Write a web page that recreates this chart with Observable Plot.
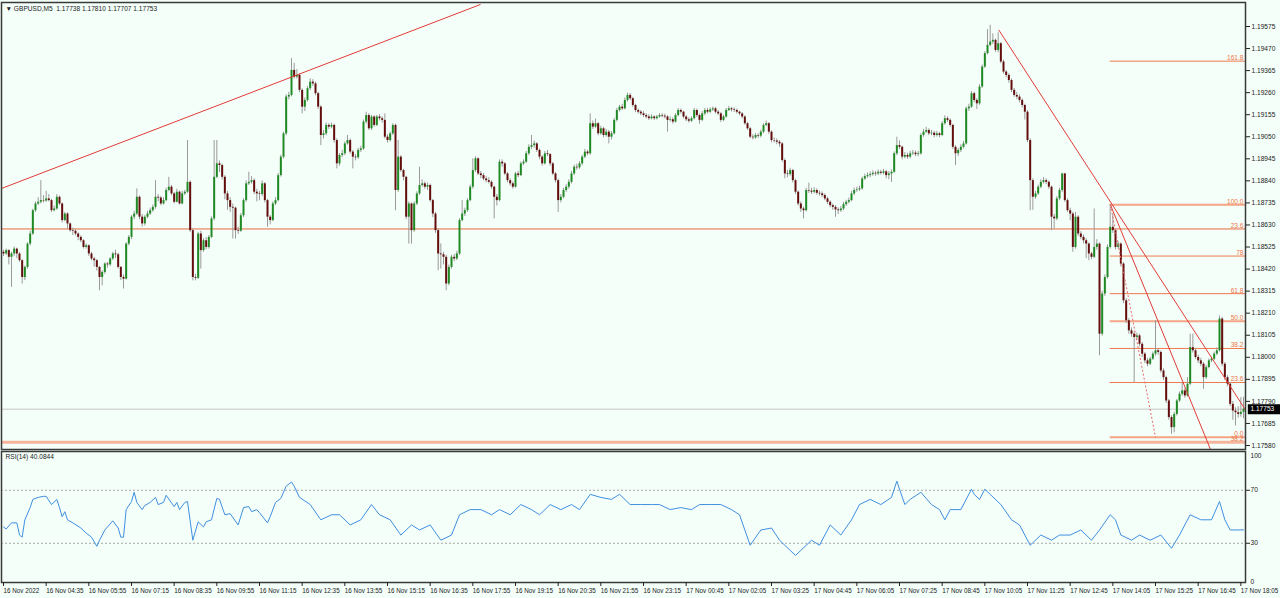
<!DOCTYPE html>
<html><head><meta charset="utf-8">
<script src="https://cdn.jsdelivr.net/npm/d3@7"></script>
<script src="https://cdn.jsdelivr.net/npm/@observablehq/plot@0.6"></script>
<style>
body{margin:0;background:#f5fffa;}
#wrap{position:relative;width:1280px;height:598px;background:#f5fffa;overflow:hidden;}
#wrap svg{position:absolute;left:0;}
</style></head><body><div id="wrap"></div>
<script>
// Prices stored in points (0.00001) above 1.17000; opens follow the previous close
const BASE = 1.17;
const firstOpen = 1500;
const closes = [
1492,1508,1476,1492,1515,1492,1460,1380,1428,1539,
1587,1698,1730,1738,1746,1744,1754,1746,1698,1706,
1762,1730,1651,1682,1635,1603,1600,1587,1571,1555,
1523,1531,1492,1468,1460,1428,1380,1404,1444,1440,
1468,1492,1488,1428,1380,1372,1539,1571,1667,1682,
1762,1667,1635,1667,1682,1698,1714,1762,1758,1730,
1746,1794,1810,1778,1738,1786,1730,1778,1786,1833,
1603,1380,1376,1587,1508,1555,1523,1571,1659,1857,
1921,1913,1857,1778,1746,1714,1710,1603,1600,1674,
1746,1826,1833,1841,1786,1778,1775,1826,1746,1667,
1651,1730,1746,1865,1953,2064,2239,2247,2366,2334,
2342,2271,2191,2223,2279,2310,2302,2255,2191,2056,
2064,2104,2096,2104,2032,1921,1961,1969,2016,2032,
1977,1953,1950,1985,1992,2120,2151,2088,2144,2104,
2144,2136,2128,2048,2032,2064,2104,1794,1953,1889,
1857,1667,1730,1603,1730,1778,1818,1826,1810,1818,
1746,1682,1603,1492,1488,1476,1349,1428,1476,1468,
1492,1651,1682,1698,1746,1810,1889,1945,1873,1865,
1849,1841,1833,1810,1762,1746,1929,1921,1873,1841,
1826,1810,1873,1865,1921,1929,1969,2000,2008,2016,
1985,1953,1921,1969,1965,1921,1873,1841,1746,1762,
1794,1810,1833,1873,1905,1902,1921,1953,1977,1969,
2112,2096,2112,2064,2088,2056,2072,2048,2064,2128,
2175,2191,2183,2223,2247,2231,2199,2175,2167,2159,
2151,2144,2136,2144,2136,2144,2151,2148,2144,2128,
2131,2120,2151,2175,2167,2144,2131,2124,2136,2175,
2151,2128,2159,2175,2167,2178,2183,2167,2159,2128,
2144,2175,2183,2178,2175,2167,2159,2144,2112,2088,
2048,2045,2056,2053,2072,2104,2112,2072,2032,2030,
2024,2016,1937,1873,1870,1889,1841,1786,1730,1706,
1698,1794,1791,1786,1794,1781,1778,1770,1754,1738,
1722,1714,1702,1698,1706,1727,1738,1746,1778,1794,
1797,1802,1849,1860,1865,1870,1876,1873,1881,1876,
1883,1865,1873,1881,1969,2008,2000,1953,1961,1953,
1969,1972,1965,1969,2056,2072,2080,2064,2067,2056,
2064,2056,2112,2136,2128,2104,2000,1969,1985,2000,
2016,2183,2191,2255,2223,2207,2287,2382,2446,2485,
2501,2509,2461,2493,2406,2358,2342,2318,2271,2247,
2239,2223,2199,2167,2032,1841,1762,1778,1810,1833,
1841,1833,1810,1667,1659,1754,1794,1873,1746,1698,
1682,1523,1667,1587,1571,1555,1539,1492,1476,1523,
1539,1110,1301,1380,1523,1619,1603,1523,1539,1444,
1269,1174,1126,1110,1094,1102,1062,1015,983,967,
991,1015,1031,1023,935,903,792,713,665,728,
792,824,840,816,872,1046,1031,999,983,967,
903,951,983,991,1015,1031,1182,967,903,872,
776,744,736,728,738,753];
const highs = [
1510,1515,1512,1500,1525,1520,1498,1465,1435,1545,
1600,1705,1740,1760,1841,1770,1790,1775,1752,1720,
1775,1768,1735,1690,1688,1640,1615,1608,1592,1578,
1560,1540,1535,1500,1475,1465,1432,1412,1450,1452,
1475,1500,1510,1495,1432,1392,1545,1580,1675,1695,
1802,1768,1680,1675,1695,1710,1725,1841,1775,1765,
1760,1805,1857,1818,1785,1800,1792,1790,1795,2032,
1840,1610,1395,1595,1600,1565,1570,1580,1668,2032,
2032,1935,1920,1865,1790,1760,1730,1715,1620,1685,
1755,1840,1881,1860,1850,1800,1790,1840,1832,1752,
1675,1740,1760,1875,1962,2072,2250,2262,2422,2400,
2370,2350,2278,2235,2290,2326,2322,2310,2262,2198,
2080,2115,2112,2115,2110,2040,1970,1985,2025,2056,
2040,1985,1965,1995,2005,2130,2167,2160,2152,2150,
2152,2155,2145,2159,2060,2072,2112,2110,2032,1960,
1895,1862,1740,1735,1740,1788,1905,1845,1835,1830,
1825,1752,1690,1610,1540,1500,1485,1440,1485,1490,
1505,1660,1746,1710,1755,1820,1945,1955,1950,1885,
1875,1860,1855,1840,1815,1775,1940,1940,1928,1880,
1850,1835,1880,1885,1930,1940,1980,2012,2056,2030,
2022,1992,1960,1980,1985,1970,1928,1880,1848,1775,
1805,1822,1845,1885,1915,1920,1932,1962,1990,1985,
2159,2125,2135,2118,2100,2095,2085,2080,2075,2138,
2185,2200,2205,2235,2258,2256,2238,2205,2182,2175,
2170,2160,2155,2155,2150,2152,2160,2160,2158,2150,
2145,2140,2160,2185,2182,2172,2150,2140,2145,2185,
2182,2158,2170,2185,2185,2188,2192,2190,2175,2165,
2152,2185,2195,2190,2188,2182,2172,2165,2150,2118,
2095,2060,2065,2065,2082,2112,2125,2118,2078,2045,
2040,2032,2022,1945,1890,1900,1895,1848,1792,1740,
1715,1805,1829,1805,1808,1802,1792,1788,1778,1762,
1745,1730,1722,1712,1718,1738,1748,1758,1790,1805,
1810,1815,1858,1872,1878,1882,1888,1885,1892,1890,
1895,1890,1885,1892,1978,2048,2030,2005,1975,1972,
1980,1985,1982,1980,2065,2085,2095,2088,2080,2075,
2075,2070,2122,2150,2145,2135,2110,2008,1995,2012,
2028,2192,2205,2265,2262,2232,2298,2392,2455,2560,
2581,2540,2515,2545,2500,2415,2365,2350,2325,2280,
2262,2250,2230,2205,2175,2040,1850,1790,1820,1845,
1855,1850,1840,1815,1680,1765,1805,1876,1876,1755,
1710,1690,1690,1675,1598,1582,1565,1545,1500,1706,
1560,1545,1315,1392,1535,1727,1680,1610,1550,1545,
1450,1280,1185,1140,1120,1115,1110,1070,1022,995,
1000,1025,1174,1040,1030,945,910,800,722,738,
800,835,880,850,903,1110,1110,1040,1010,995,
975,962,992,1002,1025,1045,1197,1190,975,912,
880,790,760,765,808,810];
const lows = [
1480,1485,1440,1333,1480,1470,1452,1349,1365,1420,
1530,1580,1690,1722,1730,1735,1738,1740,1690,1692,
1700,1722,1640,1645,1610,1595,1580,1578,1555,1545,
1515,1515,1480,1460,1430,1410,1317,1340,1395,1425,
1432,1460,1470,1420,1365,1325,1368,1530,1560,1655,
1675,1655,1620,1625,1660,1675,1690,1705,1740,1722,
1725,1740,1788,1770,1730,1735,1725,1725,1770,1780,
1595,1364,1364,1370,1420,1500,1512,1515,1565,1650,
1850,1880,1845,1750,1700,1690,1563,1563,1585,1595,
1665,1738,1818,1825,1775,1740,1745,1765,1735,1619,
1630,1645,1722,1740,1858,1945,2055,2225,2240,2325,
2325,2260,2159,2170,2215,2270,2290,2245,2180,2008,
2040,2055,2085,2088,2020,1897,1910,1950,1960,2010,
1968,1897,1935,1942,1975,1985,2110,2080,2080,2095,
2098,2125,2115,2040,2020,2025,2056,1698,1785,1880,
1840,1655,1539,1539,1595,1722,1770,1810,1800,1795,
1738,1665,1590,1412,1420,1440,1317,1340,1420,1455,
1460,1485,1645,1670,1690,1740,1800,1880,1865,1850,
1840,1830,1825,1800,1659,1720,1740,1905,1865,1830,
1815,1800,1805,1855,1860,1912,1922,1960,1990,1995,
1975,1940,1910,1915,1955,1910,1865,1830,1690,1735,
1755,1785,1800,1825,1865,1890,1895,1912,1945,1960,
1962,2085,2090,2055,2058,2045,2048,2016,2035,2058,
2120,2168,2175,2178,2215,2222,2190,2165,2158,2150,
2142,2135,2128,2130,2128,2130,2138,2140,2135,2072,
2120,2110,2115,2145,2158,2135,2122,2115,2118,2130,
2142,2110,2122,2150,2158,2160,2170,2158,2150,2118,
2122,2138,2170,2168,2165,2158,2150,2135,2105,2080,
2040,2035,2038,2042,2045,2065,2098,2062,2022,2020,
2012,2000,1928,1850,1855,1862,1830,1775,1720,1690,
1659,1692,1780,1775,1778,1772,1768,1760,1745,1728,
1712,1700,1667,1680,1690,1698,1718,1730,1740,1770,
1785,1790,1795,1842,1852,1855,1862,1862,1865,1868,
1868,1850,1845,1833,1875,1960,1990,1940,1945,1942,
1945,1960,1955,1955,1962,2048,2065,2055,2055,2045,
2048,2045,2050,2105,2118,2095,1990,1913,1955,1975,
1992,2010,2170,2185,2212,2180,2200,2280,2375,2440,
2478,2490,2452,2450,2398,2348,2330,2305,2260,2238,
2228,2212,2188,2130,2022,1698,1700,1752,1770,1802,
1825,1822,1800,1603,1610,1650,1745,1785,1738,1690,
1650,1500,1515,1575,1560,1540,1470,1460,1465,1470,
1510,1007,1100,1290,1372,1515,1590,1512,1515,1430,
1255,1160,1110,1095,880,1080,1050,1000,970,955,
960,985,1005,1010,925,890,780,700,633,640,
720,785,815,805,810,865,1020,990,970,955,
848,895,945,975,985,1008,1025,955,890,860,
765,700,673,710,715,707];

const timeLabels = ["16 Nov 2022","16 Nov 04:35","16 Nov 05:55","16 Nov 07:15","16 Nov 08:35","16 Nov 09:55",
"16 Nov 11:15","16 Nov 12:35","16 Nov 13:55","16 Nov 15:15","16 Nov 16:35","16 Nov 17:55","16 Nov 19:15",
"16 Nov 20:35","16 Nov 21:55","16 Nov 23:15","17 Nov 00:45","17 Nov 02:05","17 Nov 03:25","17 Nov 04:45",
"17 Nov 06:05","17 Nov 07:25","17 Nov 08:45","17 Nov 10:05","17 Nov 11:25","17 Nov 12:45","17 Nov 14:05",
"17 Nov 15:25","17 Nov 16:45","17 Nov 18:05"];
const barsPerLabel = 16;
const priceTicks = [1.17580,1.17685,1.17790,1.17895,1.18000,1.18105,1.18210,1.18315,1.18420,1.18525,
1.18630,1.18735,1.18840,1.18945,1.19050,1.19155,1.19260,1.19365,1.19470,1.19575];
const rsiLevels = [30,70];
const rsiTop = 100, rsiBottom = 0;

// Fibonacci retracement drawn from bar 415
const fibStartBar = 415;
const fibLabels = ["161.8","100.0","78","61.8","50.0","38.2","23.6","0.0"];
const fibPrices = [1.19410,1.18726,1.18482,1.18303,1.18172,1.18042,1.17880,1.17619];
const fibHeavy = [false,true,false,false,true,false,false,true];
// levels of a second retracement anchored off-screen (full width)
const wideLabels = ["23.6","38.2"];
const widePrices = [1.18611,1.17595];
const wideHeavy = [false,true];
// trend lines: [bar1, price1, bar2, price2]
const trendBar1 = [-1.1, 373.2, 415.1];
const trendPrice1 = [1.18802, 1.19559, 1.18726];
const trendBar2 = [178.9, 466.8, 452.6];
const trendPrice2 = [1.19680, 1.17729, 1.17562];
const fibDashBar = [415.1, 432];
const fibDashPrice = [1.18726, 1.17619];

// RSI(14)
const rsiBars = [0,1,3,5,6,7,8,10,11,13,15,16,18,20,21,22,23,24,26,29,31,33,35,36,38,41,43,44,45,46,48,49,50,52,53,55,57,58,60,61,64,65,66,68,69,71,73,75,76,78,80,81,83,85,88,90,92,93,95,96,99,100,102,104,106,108,109,111,
115,119,123,126,130,134,138,141,145,149,153,156,160,164,168,171,175,179,183,186,190,194,198,201,205,209,213,216,220,224,228,231,235,239,243,246,250,254,258,261,265,269,273,276,278,280,284,288,291,295,297,299,303,306,310,314,318,321,325,329,333,335,336,338,340,344,348,351,353,355,359,363,364,366,368,370,374,378,381,385,389,393,396,400,404,408,411,415,417,419,423,426,430,434,438,441,445,449,453,456,458,460,465];
const rsiValues = [42.3,40.8,45.4,45.4,36.2,34.6,47.7,56.9,63.1,64.6,65.4,65.4,59.2,63.1,56.9,50,53.8,47.7,45.4,41.5,37.7,34.6,27.7,32.3,40,46.9,41.5,34.6,34.6,55.4,61.5,68.5,60.8,55.4,58.5,60.8,64.6,59.2,60.8,66.2,57.7,60.8,55.4,60.8,61.5,32.3,46.2,42.3,46.2,47.7,63.8,63.1,51.5,52.3,43.8,56.9,57.7,53.8,55.4,53.1,45.4,50,60.8,63.8,73.1,76.2,73.1,64.6,
59.2,47.7,51.5,51.5,43.8,47.7,59.2,51.5,47.7,36.2,43.8,40,43.8,32.3,36.2,51.5,55.4,55.4,51.5,55.4,51.5,59.2,55.4,51.5,59.2,55.4,59.2,55.4,66.9,64.6,63.1,66.9,59.2,59.2,59.2,59.2,55.4,56.9,55.4,59.2,59.2,59.2,55.4,51.5,40,28.5,40,41.5,32.3,24.6,20.8,24.6,32.3,28.5,43.8,36.2,47.7,59.2,63.1,59.2,64.6,76.9,70.8,59.2,63.1,68.5,59.2,55.4,47.7,55.4,55.4,70.8,66.9,63.1,70.8,66.9,59.2,47.7,43.8,28.5,36.2,32.3,36.2,36.2,40,32.3,40,51.5,47.7,36.2,32.3,36.2,32.3,36.2,26.2,36.2,51.5,47.7,47.7,61.5,47.7,40,40.0844];

const symbol = "GBPUSD,M5";
const rsiName = "RSI(14)";

// ---------- build ----------
const N = closes.length;
const P = v => BASE + v / 1e5;
const candles = closes.map((c, i) => ({
  i, o: P(i ? closes[i - 1] : firstOpen), h: P(highs[i]), l: P(lows[i]), c: P(c)
}));
const last = candles[N - 1];
const f5 = d => d.toFixed(5);
const fibs = fibLabels.map((t, k) => ({t, p: fibPrices[k], heavy: fibHeavy[k]}));
const wides = wideLabels.map((t, k) => ({t, p: widePrices[k], heavy: wideHeavy[k]}));
const trends = trendBar1.map((b, k) => ({x1: b, y1: trendPrice1[k], x2: trendBar2[k], y2: trendPrice2[k]}));
const rsi = rsiBars.map((b, k) => ({i: b, v: rsiValues[k]}));

const FONT = "'Liberation Sans', Arial, sans-serif";
const xOpt = {type: "linear", domain: [0, N - 1], range: [3, 3 + (N - 1) * 2.6667], axis: null};
const bull = "#1f8a24", bear = "#640d0d", wick = "#9a9a9a";
const fibThin = "#ee7a4e", fibThick = "#f4a585";

const main = Plot.plot({
  width: 1280, height: 450,
  marginLeft: 1, marginRight: 35, marginTop: 2, marginBottom: 1,
  style: {background: "transparent", fontFamily: FONT, fontSize: "6.6px", color: "#222", overflow: "visible"},
  x: xOpt,
  y: {domain: [1.17580, 1.19575], range: [445, 26], axis: null},
  marks: [
    Plot.ruleY([last.c], {stroke: "#c4c4c4", strokeWidth: 1}),
    Plot.ruleY(wides, {y: "p", stroke: d => d.heavy ? "#f5b59c" : "#ea6a3e", strokeWidth: d => d.heavy ? 3 : 1}),
    Plot.ruleY(fibs, {y: "p", x1: fibStartBar, x2: N + 20, clip: true,
      stroke: d => d.heavy ? fibThick : fibThin, strokeWidth: d => d.heavy ? 2 : 1}),
    Plot.ruleX(candles, {x: "i", y1: "l", y2: "h", stroke: wick, strokeWidth: 1, clip: true}),
    Plot.ruleX(candles, {x: "i", y1: "o", y2: "c", stroke: d => d.c >= d.o ? bull : bear, strokeWidth: 2, clip: true}),
    Plot.link(trends, {x1: "x1", y1: "y1", x2: "x2", y2: "y2", stroke: "#e23b36", strokeWidth: 1, clip: true}),
    Plot.link([0], {x1: () => fibDashBar[0], y1: () => fibDashPrice[0], x2: () => fibDashBar[1], y2: () => fibDashPrice[1],
      stroke: "#e66a6a", strokeDasharray: "2,2", strokeWidth: 1, clip: true}),
    Plot.text(fibs, {y: "p", text: "t", frameAnchor: "right", dx: -2, dy: -1, lineAnchor: "bottom", textAnchor: "end", fill: "#ee7447"}),
    Plot.text(wides, {y: "p", text: "t", frameAnchor: "right", dx: -2, dy: -1, lineAnchor: "bottom", textAnchor: "end", fill: "#ee7447"}),
    Plot.frame({stroke: "#3a3a3a", strokeWidth: 1.5}),
    Plot.text([`\u25BC ${symbol}\u00a0\u00a0${f5(last.o)} ${f5(last.h)} ${f5(last.l)} ${f5(last.c)}`],
      {frameAnchor: "top-left", dx: 4, dy: 4, lineAnchor: "top", textAnchor: "start", fill: "#222"}),
    Plot.axisY({anchor: "right", ticks: priceTicks, tickFormat: f5, tickSize: 4, tickPadding: 2, label: null}),
    Plot.ruleY([last.c], {x1: N + 0.8, x2: N + 13.5, stroke: "#000", strokeWidth: 10}),
    Plot.text([last.c], {y: d => d, x: N + 1.6, text: f5, fill: "#fff", textAnchor: "start"})
  ]
});
main.style.top = "0px";

const rsiPlot = Plot.plot({
  width: 1280, height: 148,
  marginLeft: 1, marginRight: 35, marginTop: 1, marginBottom: 16,
  style: {background: "transparent", fontFamily: FONT, fontSize: "6.6px", color: "#222", overflow: "visible"},
  x: xOpt,
  y: {domain: [0, 100], range: [132.5, 0], axis: null},
  marks: [
    Plot.ruleY(rsiLevels, {stroke: "#a8a8a8", strokeDasharray: "2,2", strokeWidth: 1}),
    Plot.line(rsi, {x: "i", y: "v", stroke: "#3f8fe0", strokeWidth: 1, clip: true}),
    Plot.frame({stroke: "#3a3a3a", strokeWidth: 1.5}),
    Plot.text([`${rsiName} ${rsiValues[rsiValues.length - 1].toFixed(4)}`],
      {frameAnchor: "top-left", dx: 4, dy: 3, lineAnchor: "top", textAnchor: "start", fill: "#222"}),
    Plot.axisY({anchor: "right", ticks: rsiLevels, tickFormat: d => String(d), tickSize: 4, tickPadding: 1, label: null}),
    Plot.axisY({anchor: "right", ticks: [rsiTop], tickFormat: d => String(d), tickSize: 0, tickPadding: 5, dy: 5, label: null}),
    Plot.axisY({anchor: "right", ticks: [rsiBottom], tickFormat: d => String(d), tickSize: 0, tickPadding: 5, dy: -1.5, label: null}),
    Plot.axisX({anchor: "bottom", ticks: timeLabels.map((_, k) => k * barsPerLabel),
      tickFormat: d => timeLabels[Math.round(d / barsPerLabel)], tickSize: 4, tickPadding: 2.5,
      textAnchor: "start", fontSize: 6.3, label: null})
  ]
});
rsiPlot.style.top = "450px";

const wrap = document.getElementById("wrap");
wrap.appendChild(main);
wrap.appendChild(rsiPlot);
</script></body></html>
